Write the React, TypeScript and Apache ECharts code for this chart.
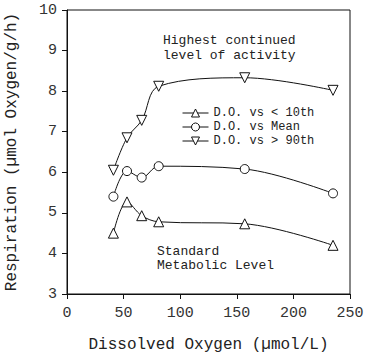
import React, { useEffect, useRef } from "react";
import * as echarts from "echarts";

const xValues = [41, 53, 66, 81, 157, 235];
const low10 = [4.5, 5.27, 4.93, 4.78, 4.73, 4.2];
const meanVals = [5.4, 6.03, 5.87, 6.15, 6.08, 5.48];
const high90 = [6.05, 6.85, 7.28, 8.12, 8.33, 8.02];
const seriesNames = ["D.O. vs < 10th", "D.O. vs Mean", "D.O. vs > 90th"];

const FONT = "Liberation Mono";

export default function App() {
  const ref = useRef<HTMLDivElement>(null);
  useEffect(() => {
    const chart = echarts.init(ref.current!, null, { renderer: "svg" });
    const mk = (name: string, vals: number[], symbol: string, rot: number) => ({
      name,
      type: "line",
      data: xValues.map((x, i) => [x, vals[i]]),
      smooth: 0.35,
      symbol,
      symbolSize: symbol === "circle" ? 9 : 10,
      symbolRotate: rot,
      showAllSymbol: true,
      lineStyle: { color: "#111", width: 1 },
      itemStyle: { color: "#fff", borderColor: "#111", borderWidth: 1 },
      z: 3,
    });
    chart.setOption({
      animation: false,
      backgroundColor: "#fff",
      grid: {
        left: 67, right: 19, top: 10, bottom: 63,
        containLabel: false,
        outerBoundsMode: "none",
        show: true, borderColor: "#111", borderWidth: 1, backgroundColor: "transparent",
      },
      legend: {
        data: seriesNames,
        orient: "vertical",
        left: 182,
        top: 107,
        itemWidth: 26,
        itemHeight: 10,
        itemGap: 2,
        padding: 0,
        itemStyle: { borderWidth: 1, borderColor: "#111", color: "#fff" },
        lineStyle: { width: 1, color: "#111" },
        textStyle: { fontFamily: FONT, fontSize: 12, color: "#222", padding: [0, 0, 0, 0] },
      },
      xAxis: {
        type: "value",
        min: 0,
        max: 250,
        interval: 50,
        name: "Dissolved Oxygen (\u00b5mol/L)",
        nameLocation: "middle",
        nameGap: 43,
        nameTextStyle: { fontFamily: FONT, fontSize: 16, color: "#222" },
        axisLine: { show: true, lineStyle: { color: "#111" } },
        axisTick: { show: true, length: 5, lineStyle: { color: "#111" } },
        axisLabel: { fontFamily: FONT, fontSize: 15, color: "#333", margin: 12 },
        splitLine: { show: false },
      },
      yAxis: {
        type: "value",
        min: 3,
        max: 10,
        interval: 1,
        name: "Respiration (\u00b5mol Oxygen/g/h)",
        nameLocation: "middle",
        nameGap: 47,
        nameTextStyle: { fontFamily: FONT, fontSize: 16, color: "#222" },
        axisLine: { show: true, lineStyle: { color: "#111" } },
        axisTick: { show: true, length: 5, lineStyle: { color: "#111" } },
        axisLabel: { fontFamily: FONT, fontSize: 15, color: "#333", margin: 10 },
        splitLine: { show: false },
      },
      graphic: [
        { type: "text", left: 163, top: 33, style: { text: "Highest continued\nlevel of activity", font: `13px "${FONT}"`, fill: "#222", lineHeight: 15 } },
        { type: "text", left: 157, top: 244, style: { text: "Standard\nMetabolic Level", font: `13px "${FONT}"`, fill: "#222", lineHeight: 14 } },
      ],
      series: [
        mk(seriesNames[0], low10, "triangle", 0),
        mk(seriesNames[1], meanVals, "circle", 0),
        mk(seriesNames[2], high90, "triangle", 180),
      ],
    });
    return () => chart.dispose();
  }, []);
  return <div ref={ref} style={{ width: 369, height: 357, position: "absolute", left: 0, top: 0 }} />;
}
